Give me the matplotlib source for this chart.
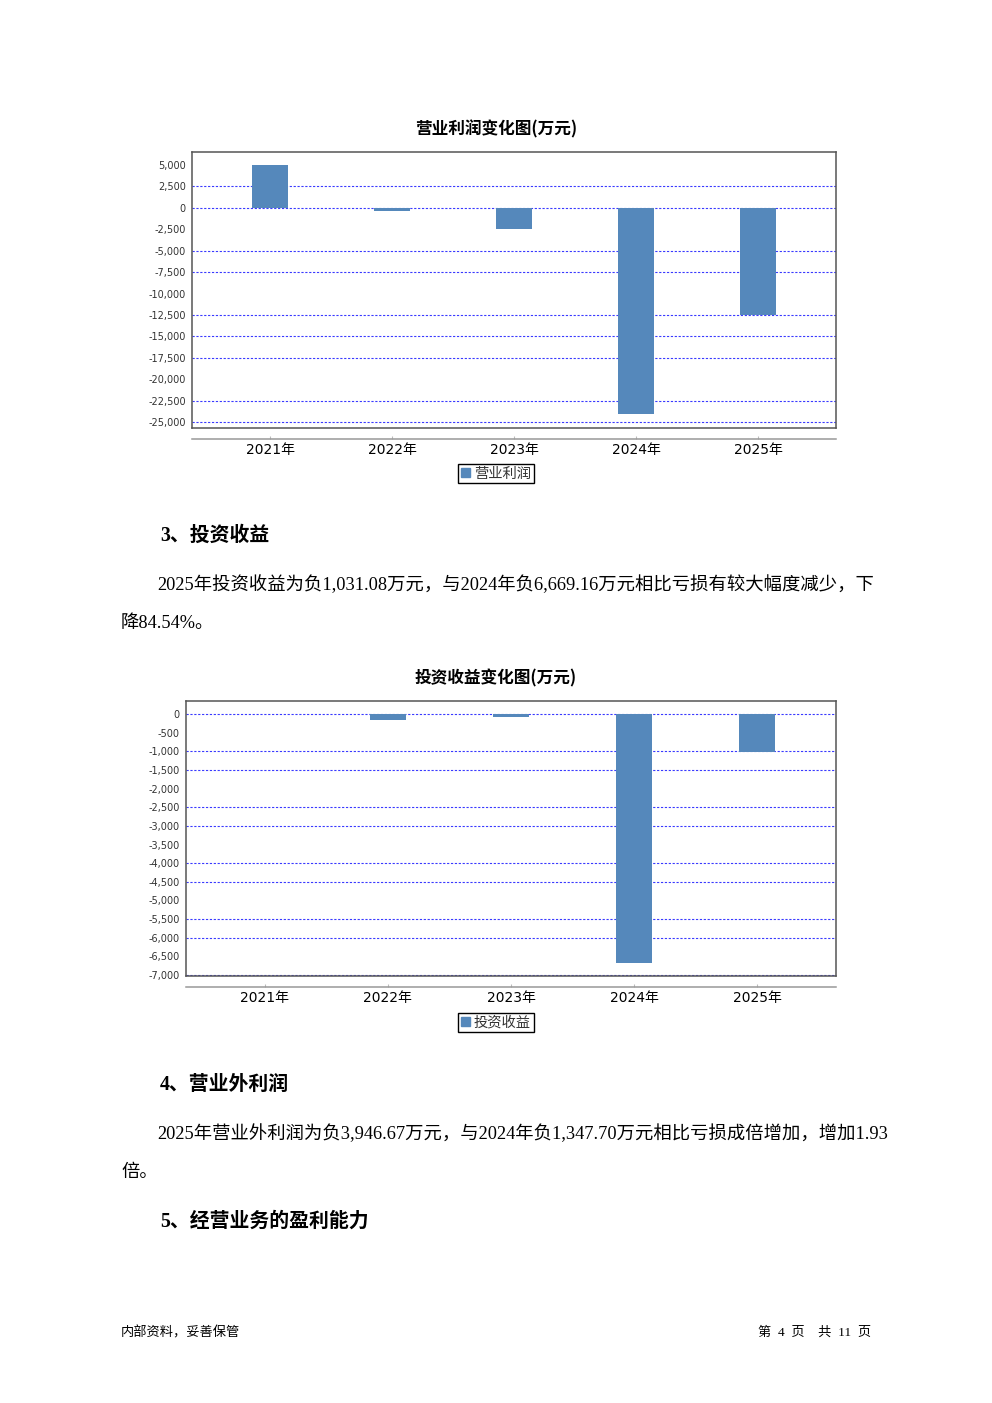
import matplotlib.pyplot as plt
from matplotlib.patches import Patch
import numpy as np

plt.rcParams['font.family'] = ['DejaVu Sans', 'Noto Sans CJK SC']

W, H = 992, 1403

years = ['2021年', '2022年', '2023年', '2024年', '2025年']
op_profit = [5030, -320, -2460, -24050, -12520]
invest_income = [-12, -150, -85, -6669.16, -1031.08]

op_ticks = [5000, 2500, 0, -2500, -5000, -7500, -10000, -12500,
            -15000, -17500, -20000, -22500, -25000]
op_grid = [2500, 0, -5000, -7500, -12500, -15000, -17500, -22500, -25000]
inv_ticks = [0, -500, -1000, -1500, -2000, -2500, -3000, -3500,
             -4000, -4500, -5000, -5500, -6000, -6500, -7000]
inv_grid = [0, -1000, -1500, -2500, -3000, -4000, -4500, -5500, -6000, -7000]

BAR = '#5588bb'
GRID = '#3a3aff'
SERIF_CJK = ['Liberation Serif', 'Noto Sans CJK SC']


def px_rect(x0, y0, x1, y1):
    return [x0 / W, 1 - y1 / H, (x1 - x0) / W, (y1 - y0) / H]


def fy(y):
    return 1 - y / H


def bar_chart(fig, rect, title, title_y, values, ylim, ticks, grid, label, legend_y):
    ax = fig.add_axes(rect)
    x = np.arange(len(years))
    ax.bar(x, values, width=0.29, color=BAR, zorder=3)
    ax.hlines(grid, -0.64, 4.64, colors=GRID, linestyles=(0, (2, 1.5)),
              linewidth=0.8, zorder=2)
    ax.set_xlim(-0.64, 4.64)
    ax.set_ylim(*ylim)
    ax.set_yticks(ticks)
    ax.set_yticklabels([f'{v:,}' for v in ticks], fontsize=7, color='#333')
    ax.tick_params(axis='y', length=0, pad=4.5)
    ax.set_xticks(x)
    ax.set_xticklabels(years, fontsize=8.5, color='#444')
    ax.tick_params(axis='x', length=2, color='#bbb', direction='in', pad=3)
    for s in ax.spines.values():
        s.set_color('#555')
        s.set_linewidth(1.1)
    # category axis sits a bit below the plot frame
    ax.spines['bottom'].set_position(('outward', 8))
    ax.spines['bottom'].set_color('#999')
    ax.plot([0, 1], [0, 0], transform=ax.transAxes, color='#555',
            lw=1.1, clip_on=False)

    fig.text(496 / W, fy(title_y), title, ha='center', va='center',
             fontsize=12, fontweight='bold', family=['Noto Sans CJK SC'])
    leg = fig.legend(handles=[Patch(color=BAR, label=label)], loc='center',
                     bbox_to_anchor=(496 / W, fy(legend_y)), fancybox=False,
                     edgecolor='black', framealpha=1, fontsize=10.3,
                     handlelength=0.6, handleheight=0.6, handletextpad=0.3,
                     borderpad=0.2, borderaxespad=0)
    leg.get_frame().set_linewidth(1.0)
    for t in leg.get_texts():
        t.set_color('#333')
    return ax


fig = plt.figure(figsize=(W / 100, H / 100), dpi=100)

bar_chart(fig, px_rect(192, 152, 836, 428), '营业利润变化图(万元)', 129,
          op_profit, (-25700, 6520), op_ticks, op_grid, '营业利润', 473.5)

bar_chart(fig, px_rect(186, 701, 836, 976), '投资收益变化图(万元)', 678,
          invest_income, (-7027, 350), inv_ticks, inv_grid, '投资收益', 1022.5)

# document text
head = dict(fontsize=14.3, fontweight='bold', family=SERIF_CJK, va='center')
body = dict(fontsize=13.2, family=SERIF_CJK, va='center')

fig.text(160 / W, fy(536), '3、投资收益', **head)
fig.text(157 / W, fy(585),
         '2025年投资收益为负1,031.08万元，与2024年负6,669.16万元相比亏损有较大幅度减少，下',
         **body)
fig.text(121 / W, fy(623), '降84.54%。', **body)

fig.text(160 / W, fy(1085), '4、营业外利润', **head)
fig.text(157 / W, fy(1134),
         '2025年营业外利润为负3,946.67万元，与2024年负1,347.70万元相比亏损成倍增加，增加1.93',
         **body)
fig.text(121 / W, fy(1172), '倍。', **body)

fig.text(160 / W, fy(1222), '5、经营业务的盈利能力', **head)

fig.text(121 / W, fy(1333), '内部资料，妥善保管', fontsize=9.5,
         family=SERIF_CJK, va='center')
fig.text(871 / W, fy(1333), '第  4  页    共  11  页', fontsize=9.5,
         family=SERIF_CJK, va='center', ha='right')

fig.savefig('out.png', dpi=100)
plt.close(fig)
